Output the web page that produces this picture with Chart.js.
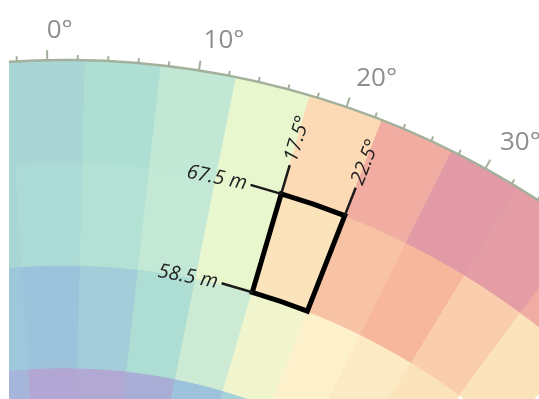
<!DOCTYPE html>
<html>
<head>
<meta charset="utf-8">
<script src="https://cdn.jsdelivr.net/npm/chart.js@4.4.1/dist/chart.umd.min.js"></script>
<style>
  html, body { margin: 0; padding: 0; background: #fff; overflow: hidden; }
  #wrap { position: absolute; left: 9px; top: 0; width: 530px; height: 399px; overflow: hidden; }
  #polar { position: absolute; }
</style>
</head>
<body>
<div id="wrap"><canvas id="polar" width="1864" height="1864"></canvas></div>
<script>
// sector centres (deg), each cell is 5 deg wide
const sectors = [-5, 0, 5, 10, 15, 20, 25, 30, 35, 40];
const sectorWidth = 5;
// ring edges in metres, outer -> inner
const ringEdges = [76.5, 67.5, 58.5, 49.5, 40.5];

// cell values, one list per ring (outer first); null = not in the picture
const ring1 = [38, 38, 44, 52, 66, 82, 94, 100, 99, 95];
const ring2 = [38, 41, 46, 53, 66, 78, 86, 90, 84, 78];
const ring3 = [25, 22, 30, 43, 58, 68, 72, 75, 78, null];
const ring4 = [14, 0, 1, 8, 22, 34, null, null, null, null];

// outer axis ticks
const tickStep = 2;
const tickLabelAngles = [0, 10, 20, 30];
const tickLabels = ["0°", "10°", "20°", "30°"];

// highlighted cell
const highlightSector = 20;
const highlightRing = 1;

// colour scale
const colorStops = [
  [0, "#b2a7d4"], [8, "#a9aed7"], [14, "#a5b6da"], [22, "#9dc3dc"], [30, "#a3cdd9"],
  [38, "#a9d5d4"], [44, "#aedfd3"], [52, "#c1e7d5"], [58, "#cdebd4"], [66, "#e9f7cf"],
  [72, "#fdf1cc"], [78, "#fbe3bc"], [82, "#fcdab5"], [86, "#f8c2a5"], [90, "#f6b79d"],
  [95, "#f0aba2"], [100, "#e29aa6"]
];

function hexRgb(h) {
  return [1, 3, 5].map(i => parseInt(h.substr(i, 2), 16));
}
function colorAt(v) {
  if (v === null) return "rgba(0,0,0,0)";
  for (let i = 1; i < colorStops.length; i++) {
    const [v1, c1] = colorStops[i];
    const [v0, c0] = colorStops[i - 1];
    if (v <= v1) {
      const t = (v - v0) / (v1 - v0);
      const a = hexRgb(c0), b = hexRgb(c1);
      const c = a.map((x, k) => Math.round(x + (b[k] - x) * t));
      return "rgb(" + c.join(",") + ")";
    }
  }
  return colorStops[colorStops.length - 1][1];
}

const tilt = -1.1;       // chart is turned a little
const outerPx = 872;     // radius of 76.5 m in pixels
const centre = [64, 932]; // page position of the pole

const canvas = document.getElementById("polar");
canvas.style.left = (centre[0] - 9 - canvas.width / 2) + "px";
canvas.style.top = (centre[1] - canvas.height / 2) + "px";

const widths = sectors.map(() => sectorWidth).concat([360 - sectorWidth * sectors.length]);
const rings = [ring1, ring2, ring3, ring4];

const datasets = rings.map((vals, i) => {
  const cols = vals.map(colorAt).concat(["rgba(0,0,0,0)"]);
  return {
    label: ringEdges[i + 1] + "-" + ringEdges[i] + " m",
    data: widths,
    backgroundColor: cols,
    borderColor: cols,
    borderWidth: 1,
    weight: 1
  };
});

const rad = d => (d + tilt - 90) * Math.PI / 180;

const decorations = {
  id: "decorations",
  afterDatasetsDraw(chart) {
    const ctx = chart.ctx;
    const first = chart.getDatasetMeta(0).data[0];
    const cx = first.x, cy = first.y, R = first.outerRadius;
    ctx.save();

    // outer rim
    ctx.strokeStyle = "#a3b09b";
    ctx.lineWidth = 2.5;
    ctx.beginPath();
    ctx.arc(cx, cy, R, rad(-14), rad(50));
    ctx.stroke();

    // ticks
    ctx.lineWidth = 2;
    for (let d = -12; d <= 48; d += tickStep) {
      const len = d % 10 === 0 ? 10 : 5;
      const a = rad(d);
      ctx.beginPath();
      ctx.moveTo(cx + R * Math.cos(a), cy + R * Math.sin(a));
      ctx.lineTo(cx + (R + len) * Math.cos(a), cy + (R + len) * Math.sin(a));
      ctx.stroke();
    }

    // tick labels
    ctx.fillStyle = "#8e8e8e";
    ctx.font = "26px 'Open Sans', 'DejaVu Sans', sans-serif";
    ctx.textAlign = "left";
    ctx.textBaseline = "middle";
    tickLabelAngles.forEach((d, i) => {
      const a = rad(d);
      ctx.fillText(tickLabels[i], cx + (R + 30) * Math.cos(a), cy + (R + 30) * Math.sin(a));
    });

    // highlighted cell
    const el = chart.getDatasetMeta(highlightRing).data[sectors.indexOf(highlightSector)];
    const sa = el.startAngle, ea = el.endAngle, ro = el.outerRadius, ri = el.innerRadius;
    ctx.strokeStyle = "#000";
    ctx.lineWidth = 5;
    ctx.lineJoin = "miter";
    ctx.beginPath();
    ctx.arc(cx, cy, ro, sa, ea);
    ctx.arc(cx, cy, ri, ea, sa, true);
    ctx.closePath();
    ctx.stroke();

    // annotations
    ctx.strokeStyle = "#1a1a1a";
    ctx.fillStyle = "#222";
    ctx.lineWidth = 2.5;
    ctx.font = "italic 20px 'Open Sans', 'DejaVu Sans', sans-serif";
    ctx.textBaseline = "middle";

    // radius labels along the arc, left of the cell
    [[ro, ringEdges[highlightRing]], [ri, ringEdges[highlightRing + 1]]].forEach(([r, m]) => {
      const px = cx + r * Math.cos(sa), py = cy + r * Math.sin(sa);
      const lead = 32;
      ctx.beginPath();
      ctx.moveTo(px, py);
      ctx.lineTo(px + lead * Math.sin(sa), py - lead * Math.cos(sa));
      ctx.stroke();
      const txt = m.toFixed(1) + " m";
      const w = ctx.measureText(txt).width;
      const at = sa - (lead + 4 + w / 2) / r;
      ctx.save();
      ctx.translate(cx + r * Math.cos(at), cy + r * Math.sin(at));
      ctx.rotate(at + Math.PI / 2);
      ctx.textAlign = "center";
      ctx.fillText(txt, 0, 0);
      ctx.restore();
    });

    // angle labels along the radius, above the cell
    [[sa, highlightSector - sectorWidth / 2], [ea, highlightSector + sectorWidth / 2]].forEach(([a, d]) => {
      const lead = 30;
      ctx.beginPath();
      ctx.moveTo(cx + ro * Math.cos(a), cy + ro * Math.sin(a));
      ctx.lineTo(cx + (ro + lead) * Math.cos(a), cy + (ro + lead) * Math.sin(a));
      ctx.stroke();
      ctx.save();
      ctx.translate(cx + (ro + lead + 4) * Math.cos(a), cy + (ro + lead + 4) * Math.sin(a));
      ctx.rotate(a);
      ctx.textAlign = "left";
      ctx.fillText(d.toFixed(1) + "°", 0, 0);
      ctx.restore();
    });

    ctx.restore();
  }
};

new Chart(canvas, {
  type: "doughnut",
  data: {
    labels: sectors.map(s => s + "°").concat([""]),
    datasets: datasets
  },
  options: {
    responsive: false,
    devicePixelRatio: 1,
    animation: false,
    events: [],
    radius: outerPx,
    cutout: (ringEdges[ringEdges.length - 1] / ringEdges[0] * 100) + "%",
    rotation: sectors[0] - sectorWidth / 2 + tilt,
    circumference: 360,
    layout: { padding: 0 },
    plugins: {
      legend: { display: false },
      tooltip: { enabled: false }
    }
  },
  plugins: [decorations]
});
</script>
</body>
</html>
